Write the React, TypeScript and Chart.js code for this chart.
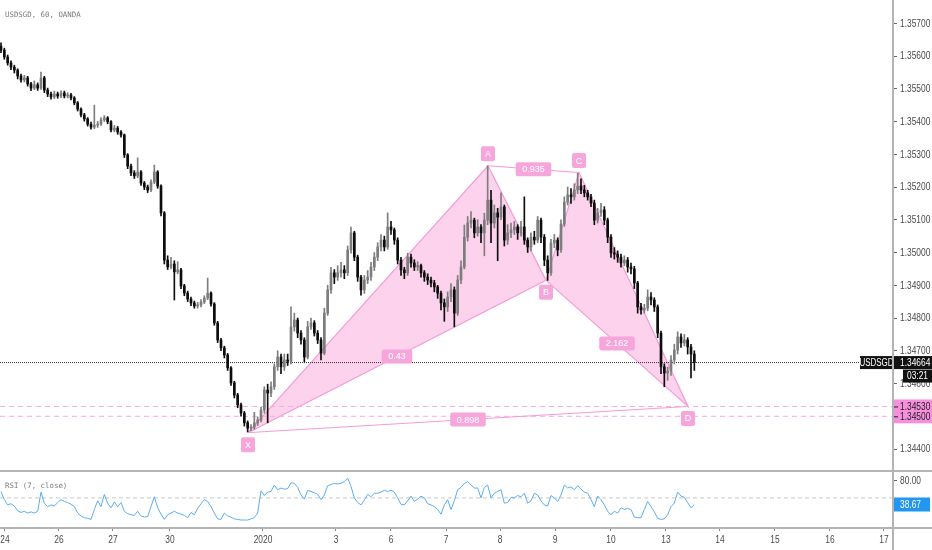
import React, { useEffect, useRef } from 'react';
import Chart from 'chart.js/auto';

// ---- data ----
const chartTitle = 'USDSGD, 60, OANDA';
const rsiTitle = 'RSI (7, close)';
const symbol = 'USDSGD';
const countdown = '03:21';
const lastPrice = 1.34664;
const targetLevels = [1.3453, 1.345];

const firstOpen = 1.3563;
const closes = [
  1.35618, 1.35597, 1.35579, 1.35566, 1.35557, 1.35539, 1.35527, 1.35533, 1.35515, 1.35502,
  1.35512, 1.35502, 1.35533, 1.35496, 1.35484, 1.35475, 1.35484, 1.35478, 1.35487, 1.35478,
  1.35481, 1.35472, 1.35457, 1.35438, 1.3542, 1.35408, 1.35392, 1.35383, 1.35389, 1.35392,
  1.35405, 1.35411, 1.35399, 1.35374, 1.3538, 1.35368, 1.35359, 1.35298, 1.35264, 1.35243,
  1.35234, 1.35246, 1.35212, 1.352, 1.35191, 1.35215, 1.35246, 1.35203, 1.35121, 1.34977,
  1.34956, 1.34965, 1.34941, 1.34947, 1.34898, 1.34876, 1.34858, 1.34846, 1.34837, 1.3484,
  1.34849, 1.34861, 1.34876, 1.34843, 1.34785, 1.34733, 1.34709, 1.34687, 1.34648, 1.34602,
  1.34565, 1.34535, 1.3451, 1.3448, 1.34464, 1.34467, 1.3448, 1.34489, 1.34519, 1.3458,
  1.34571, 1.3459, 1.34651, 1.34681, 1.34651, 1.34672, 1.34668, 1.34773, 1.34794, 1.34754,
  1.34733, 1.34681, 1.34773, 1.34785, 1.34754, 1.34733, 1.34693, 1.34815, 1.34886, 1.34938,
  1.34925, 1.34938, 1.34947, 1.34938, 1.35008, 1.3506, 1.34986, 1.34925, 1.34886, 1.34916,
  1.34925, 1.34956, 1.34986, 1.35017, 1.35038, 1.35017, 1.35078, 1.35069, 1.35038, 1.34977,
  1.34947, 1.34938, 1.34986, 1.34968, 1.34956, 1.3496, 1.34938, 1.34925, 1.34916, 1.34907,
  1.34895, 1.34876, 1.34846, 1.34834, 1.34864, 1.34886, 1.34815, 1.34916, 1.34956, 1.35047,
  1.3509, 1.35099, 1.3506, 1.35078, 1.3506, 1.35099, 1.3516, 1.3509, 1.35121, 1.35108,
  1.35139, 1.35038, 1.3506, 1.35069, 1.35078, 1.3506, 1.35078, 1.35038, 1.35017, 1.35047,
  1.35038, 1.35099, 1.35047, 1.34977, 1.34938, 1.35029, 1.35038, 1.35008, 1.35087, 1.35154,
  1.35176, 1.3517, 1.35191, 1.35203, 1.35191, 1.35182, 1.3517, 1.35151, 1.35099, 1.35121,
  1.3513, 1.35099, 1.35047, 1.34999, 1.34995, 1.34986, 1.34968, 1.34977, 1.34956, 1.3495,
  1.34907, 1.34834, 1.34825, 1.3483, 1.34864, 1.34855, 1.34834, 1.34754, 1.34651, 1.34632,
  1.34638, 1.34672, 1.34702, 1.34742, 1.34724, 1.34733, 1.34712, 1.3469, 1.34664,
];
const highs = [
  1.3564, 1.35624, 1.35603, 1.35585, 1.35572, 1.35561, 1.35545, 1.35541, 1.35538, 1.3552,
  1.35524, 1.35518, 1.35551, 1.35538, 1.35502, 1.3549, 1.35493, 1.3549, 1.35494, 1.35493,
  1.35488, 1.35486, 1.35476, 1.35461, 1.35442, 1.35425, 1.35412, 1.35398, 1.3545, 1.354,
  1.35412, 1.35418, 1.35415, 1.35403, 1.35388, 1.35385, 1.35372, 1.35362, 1.35302, 1.3527,
  1.3525, 1.35289, 1.3525, 1.35217, 1.35206, 1.35222, 1.35267, 1.3525, 1.35207, 1.35125,
  1.3499, 1.34985, 1.34975, 1.34972, 1.34952, 1.34903, 1.34882, 1.34864, 1.34852, 1.34848,
  1.34856, 1.34868, 1.34922, 1.3488, 1.34847, 1.3479, 1.34738, 1.34714, 1.34692, 1.34652,
  1.34607, 1.3457, 1.3454, 1.34515, 1.34486, 1.34475, 1.34512, 1.34498, 1.34527, 1.3459,
  1.34598, 1.34605, 1.3466, 1.347, 1.3469, 1.3469, 1.3469, 1.34834, 1.34815, 1.348,
  1.34762, 1.3474, 1.3479, 1.348, 1.34792, 1.34762, 1.3474, 1.3483, 1.349, 1.34955,
  1.34948, 1.3496, 1.3497, 1.3496, 1.3502, 1.35078, 1.35065, 1.34992, 1.3493, 1.3493,
  1.34945, 1.3497, 1.35, 1.3503, 1.35055, 1.3505, 1.35121, 1.35095, 1.35075, 1.35045,
  1.34985, 1.34955, 1.34998, 1.34995, 1.34978, 1.34972, 1.34965, 1.34945, 1.34935, 1.34925,
  1.34915, 1.349, 1.34882, 1.34858, 1.3488, 1.34905, 1.34895, 1.3493, 1.34975, 1.35084,
  1.3511, 1.35125, 1.35105, 1.351, 1.35085, 1.3512, 1.35265, 1.3519, 1.35145, 1.35135,
  1.35182, 1.35145, 1.35085, 1.3509, 1.35095, 1.35085, 1.35095, 1.3517, 1.35045, 1.3506,
  1.35065, 1.3511, 1.35105, 1.35055, 1.3499, 1.3504, 1.35055, 1.35045, 1.351, 1.3517,
  1.352, 1.35195, 1.3521, 1.35244, 1.35225, 1.35205, 1.3519, 1.35178, 1.3516, 1.35135,
  1.3515, 1.3514, 1.35105, 1.35055, 1.35015, 1.35005, 1.34995, 1.3499, 1.34985, 1.34968,
  1.34958, 1.34912, 1.34845, 1.34842, 1.34886, 1.34878, 1.34862, 1.3484, 1.3476, 1.3466,
  1.3465, 1.34685, 1.3472, 1.34758, 1.34752, 1.3475, 1.3474, 1.3472, 1.347,
];
const lows = [
  1.3561, 1.3559, 1.35572, 1.35558, 1.35548, 1.3553, 1.3552, 1.35521, 1.35508, 1.35494,
  1.35497, 1.35495, 1.35498, 1.35488, 1.35476, 1.35468, 1.3547, 1.35471, 1.35473, 1.35472,
  1.35472, 1.35466, 1.35451, 1.35432, 1.35414, 1.35401, 1.35386, 1.35377, 1.35378, 1.35382,
  1.35388, 1.354, 1.35393, 1.35368, 1.35369, 1.35361, 1.35352, 1.3529, 1.35256, 1.35235,
  1.35226, 1.35228, 1.35205, 1.35192, 1.35183, 1.35186, 1.3521, 1.35196, 1.35112, 1.34965,
  1.34948, 1.3495, 1.34855, 1.34935, 1.3489, 1.34868, 1.3485, 1.34838, 1.3483, 1.3483,
  1.34834, 1.34844, 1.34856, 1.34836, 1.34778, 1.34725, 1.347, 1.34678, 1.3464, 1.34594,
  1.34556, 1.34526, 1.345, 1.3447, 1.34452, 1.34456, 1.3446, 1.34472, 1.34483, 1.3451,
  1.3448, 1.3456, 1.34582, 1.3464, 1.3463, 1.3464, 1.34655, 1.3466, 1.3476, 1.3474,
  1.3472, 1.34666, 1.34675, 1.34765, 1.34745, 1.34722, 1.34672, 1.34688, 1.34808, 1.34875,
  1.34905, 1.34915, 1.34925, 1.3492, 1.3493, 1.34998, 1.34975, 1.34912, 1.3487, 1.34875,
  1.34905, 1.34915, 1.34945, 1.34975, 1.35005, 1.35005, 1.3501, 1.35055, 1.35025, 1.34965,
  1.3493, 1.3492, 1.3493, 1.34955, 1.34945, 1.34945, 1.34925, 1.34912, 1.34902, 1.34895,
  1.3488, 1.3486, 1.34825, 1.3479, 1.3482, 1.3485, 1.34773, 1.34808, 1.34905, 1.3495,
  1.35035, 1.35075, 1.35045, 1.3505, 1.3503, 1.3499, 1.35085, 1.3503, 1.35075, 1.34975,
  1.351, 1.3502, 1.35025, 1.35045, 1.35055, 1.3504, 1.3505, 1.35025, 1.35, 1.35005,
  1.35025, 1.3503, 1.3503, 1.3496, 1.34915, 1.3493, 1.35015, 1.3499, 1.35, 1.3508,
  1.35145, 1.3515, 1.3516, 1.3518, 1.3518, 1.3517, 1.3516, 1.3514, 1.35085, 1.3509,
  1.3511, 1.35085, 1.3503, 1.34985, 1.3498, 1.3497, 1.34955, 1.3496, 1.3494, 1.34935,
  1.3489, 1.34815, 1.34812, 1.34815, 1.34822, 1.3484, 1.3482, 1.3474, 1.3463, 1.3459,
  1.3461, 1.34625, 1.3466, 1.3469, 1.3471, 1.34715, 1.3469, 1.34617, 1.3464,
];
const rsiValues = [
  61, 47, 38, 40, 36, 28, 25, 27, 24, 26,
  24, 27, 60, 41, 35, 38, 36, 42, 47, 44,
  42, 39, 35, 24, 19, 16, 15, 13, 30, 45,
  35, 56, 41, 33, 43, 35, 42, 27, 23, 21,
  20, 27, 19, 17, 18, 35, 52, 33, 22, 13,
  21, 24, 27, 24, 22, 20, 16, 25, 21, 32,
  40, 47, 44, 35, 24, 14, 13, 24, 19, 17,
  14, 13, 12, 12, 12, 14, 16, 24, 62, 54,
  60, 61, 72, 64, 67, 65, 66, 76, 75, 68,
  55, 48, 63, 61, 59, 56, 47, 55, 71, 73,
  75, 74, 75, 78, 84, 70, 50, 42, 38, 46,
  56, 52, 58, 58, 60, 63, 61, 63, 60, 50,
  39, 38, 45, 53, 44, 48, 53, 50, 40, 38,
  35, 30, 22, 38, 47, 30, 45, 64, 68, 75,
  78, 72, 67, 67, 50, 68, 72, 50, 58, 61,
  64, 41, 42, 51, 50, 54, 52, 58, 41, 45,
  58, 55, 45, 38, 36, 54, 50, 44, 55, 72,
  67, 69, 64, 71, 65, 60, 58, 47, 35, 53,
  47, 38, 27, 21, 27, 24, 33, 30, 32, 30,
  17, 16, 16, 30, 44, 35, 26, 15, 13, 14,
  21, 35, 41, 60, 53, 51, 42, 33, 38.67,
];

const priceTicks = [1.357, 1.356, 1.355, 1.354, 1.353, 1.352, 1.351, 1.35, 1.349, 1.348, 1.347, 1.346, 1.345, 1.344];
const rsiTicks = [80];
const rsiMid = 50;
// bar index where each day label sits
const dayTickPos = [1.2, 17.4, 33.6, 50.7, 78.6, 100.5, 117, 133.5, 149.7, 166.2, 183, 199.5, 215.7, 232.2, 248.7, 264.9];
const dayTickLabels = ['24', '26', '27', '30', '2020', '3', '6', '7', '8', '9', '10', '13', '14', '15', '16', '17'];

// harmonic pattern
const patternNames = ['X', 'A', 'B', 'C', 'D'];
const patternBars = [74.1, 146.1, 163.5, 173.4, 206.1];
const patternPrices = [1.3445, 1.35265, 1.34915, 1.35244, 1.3453];
const ratioTexts = ['0.43', '0.935', '2.162', '0.898'];
const ratioLegs = [[0, 2], [1, 3], [2, 4], [0, 4]];

// ---- look ----
const X_MIN = -0.3;
const X_MAX = 267.6;
const AXIS_W = 39;
const SANS = '"Liberation Sans", Arial, sans-serif';
const MONO = '"DejaVu Sans Mono", monospace';
const AXIS_FONT = `10.5px ${SANS}`;
const SQUEEZE = 0.8;
const PINK_LINE = '#f59ad6';
const PINK_FILL = 'rgba(248,160,218,0.48)';
const PINK_BOX = '#f7a6dc';
const PINK_AXIS = '#f78fdc';
const UP = '#7d7d7d';
const DOWN = '#0d0d0d';

// narrow text: the page has no condensed face, so squeeze a regular one
function narrowText(ctx: any, text: string, x: number, y: number, color: string, align: string = 'left', font: string = AXIS_FONT) {
  ctx.save();
  ctx.font = font;
  ctx.fillStyle = color;
  ctx.textAlign = align;
  ctx.textBaseline = 'middle';
  ctx.translate(x, y);
  ctx.scale(SQUEEZE, 1);
  ctx.fillText(text, 0, 0);
  ctx.restore();
}

function pill(ctx: any, left: number, top: number, w: number, h: number, bg: string, r = 2) {
  ctx.fillStyle = bg;
  ctx.beginPath();
  if (ctx.roundRect) ctx.roundRect(left, top, w, h, r);
  else ctx.rect(left, top, w, h);
  ctx.fill();
}

const mainOverlay = {
  id: 'mainOverlay',
  afterDraw(chart: any) {
    const { ctx, chartArea } = chart;
    const x = chart.scales.x;
    const y = chart.scales.y;
    const right = chartArea.right;
    ctx.save();

    ctx.font = `7.4px ${MONO}`;
    ctx.fillStyle = '#7a7a7a';
    ctx.textAlign = 'left';
    ctx.textBaseline = 'middle';
    ctx.fillText(chartTitle, 5, 15);

    // price axis labels
    y.ticks.forEach((t: any) => {
      narrowText(ctx, Number(t.value).toFixed(5), right + 7, y.getPixelForValue(t.value) + 0.5, '#4a4a4a');
    });

    const labelFont = `9px ${SANS}`;
    ratioLegs.forEach(([a, b], k) => {
      const mx = (x.getPixelForValue(patternBars[a]) + x.getPixelForValue(patternBars[b])) / 2;
      const my = (y.getPixelForValue(patternPrices[a]) + y.getPixelForValue(patternPrices[b])) / 2;
      ctx.font = labelFont;
      const w = ctx.measureText(ratioTexts[k]).width + 13;
      pill(ctx, mx - w / 2, my - 7, w, 14, PINK_BOX);
      ctx.fillStyle = '#fff';
      ctx.textAlign = 'center';
      ctx.textBaseline = 'middle';
      ctx.fillText(ratioTexts[k], mx, my + 0.5);
    });
    patternNames.forEach((name, k) => {
      const px = x.getPixelForValue(patternBars[k]);
      const py = y.getPixelForValue(patternPrices[k]) + (name === 'A' || name === 'C' ? -12 : 12);
      pill(ctx, px - 7, py - 7.5, 14, 15, PINK_BOX);
      ctx.font = labelFont;
      ctx.fillStyle = '#fff';
      ctx.textAlign = 'center';
      ctx.textBaseline = 'middle';
      ctx.fillText(name, px, py + 0.5);
    });

    // last price boxes on the axis
    const py = y.getPixelForValue(lastPrice);
    ctx.fillStyle = '#111';
    ctx.fillRect(right - 33, py - 6.5, 33, 13);
    narrowText(ctx, symbol, right - 16.5, py + 0.5, '#fff', 'center', `10px ${SANS}`);
    ctx.fillRect(right, py - 6.5, chart.width - right, 13);
    narrowText(ctx, lastPrice.toFixed(5), right + 7, py + 0.5, '#fff');
    ctx.fillStyle = '#111';
    ctx.fillRect(right + 10, py + 7, chart.width - right - 10, 13);
    narrowText(ctx, countdown, right + 10 + (chart.width - right - 10) / 2, py + 14, '#fff', 'center');

    const t0 = y.getPixelForValue(targetLevels[0]);
    const t1 = y.getPixelForValue(targetLevels[1]);
    ctx.fillStyle = PINK_AXIS;
    ctx.fillRect(right + 1, t0 - 7, chart.width - right, t1 - t0 + 14);
    targetLevels.forEach((lv) => {
      const ly = y.getPixelForValue(lv);
      ctx.fillStyle = '#222';
      ctx.fillRect(right + 1, ly, 4, 1);
      narrowText(ctx, lv.toFixed(5), right + 7, ly + 0.5, '#222');
    });
    ctx.restore();
  },
};

const rsiOverlay = {
  id: 'rsiOverlay',
  afterDraw(chart: any) {
    const { ctx, chartArea } = chart;
    const x = chart.scales.x;
    const y = chart.scales.y;
    const right = chartArea.right;
    ctx.save();
    ctx.font = `7.4px ${MONO}`;
    ctx.fillStyle = '#7a7a7a';
    ctx.textAlign = 'left';
    ctx.textBaseline = 'middle';
    ctx.fillText(rsiTitle, 5, 14);

    y.ticks.forEach((t: any) => {
      narrowText(ctx, Number(t.value).toFixed(2), right + 7, y.getPixelForValue(t.value) + 0.5, '#4a4a4a');
    });
    x.ticks.forEach((t: any, i: number) => {
      narrowText(ctx, dayTickLabels[i], x.getPixelForValue(t.value), chartArea.bottom + 13, '#4a4a4a', 'center');
    });

    const last = rsiValues[rsiValues.length - 1];
    const py = y.getPixelForValue(last);
    ctx.fillStyle = '#2196f3';
    ctx.fillRect(right + 1, py - 7, chart.width - right - 3, 14);
    narrowText(ctx, last.toFixed(2), right + 7, py + 0.5, '#fff');
    ctx.restore();
  },
};

const App = () => {
  const mainRef = useRef<HTMLCanvasElement>(null);
  const rsiRef = useRef<HTMLCanvasElement>(null);

  useEffect(() => {
    let mainChart: any = null;
    let rsiChart: any = null;

    const opens = closes.map((c, i) => (i === 0 ? firstOpen : closes[i - 1]));
    const candleColors = closes.map((c, i) => (c >= opens[i] ? UP : DOWN));
    const pt = (k: number) => ({ x: patternBars[k], y: patternPrices[k] });
    const hline = (v: number) => [{ x: X_MIN, y: v }, { x: X_MAX, y: v }];
    const line = (data: any[], color: string, width: number, dash: number[], order: number, extra: any = {}) => ({
      type: 'line', data, borderColor: color, borderWidth: width, borderDash: dash,
      pointRadius: 0, pointHoverRadius: 0, tension: 0, fill: false, order, ...extra,
    });
    const hiddenLabels = { display: false };

    if (mainRef.current) {
      mainChart = new Chart(mainRef.current, {
        type: 'bar',
        data: {
          datasets: [
            line([pt(0), pt(1), pt(2), pt(0)], PINK_LINE, 1.2, [], 10, { fill: 'shape', backgroundColor: PINK_FILL }),
            line([pt(2), pt(3), pt(4), pt(2)], PINK_LINE, 1.2, [], 10, { fill: 'shape', backgroundColor: PINK_FILL }),
            line(hline(targetLevels[0]), '#f9a9df', 1, [5, 4], 9),
            line(hline(targetLevels[1]), '#f9a9df', 1, [5, 4], 9),
            line(hline(lastPrice), '#333', 1, [1, 1], 8),
            {
              type: 'bar',
              data: closes.map((_, i) => ({ x: i, y: [lows[i], highs[i]] })),
              backgroundColor: candleColors, barThickness: 1, maxBarThickness: 1,
              grouped: false, borderWidth: 0, order: 3,
            },
            {
              type: 'bar',
              data: closes.map((c, i) => ({ x: i, y: [opens[i], c] })),
              backgroundColor: candleColors, barThickness: 2, maxBarThickness: 2,
              grouped: false, borderWidth: 0, minBarLength: 1, order: 2,
            },
            line([pt(0), pt(4)], PINK_LINE, 1, [], 1),
            line([pt(1), pt(3)], PINK_LINE, 1, [], 1),
          ] as any,
        },
        options: {
          responsive: false,
          animation: false,
          events: [],
          layout: { padding: 0 },
          plugins: { legend: { display: false }, tooltip: { enabled: false } },
          scales: {
            x: { type: 'linear', min: X_MIN, max: X_MAX, display: false, offset: false },
            y: {
              type: 'linear',
              position: 'right',
              min: 1.34336,
              max: 1.35771,
              beginAtZero: false,
              afterBuildTicks: (s: any) => { s.ticks = priceTicks.map((v) => ({ value: v })); },
              afterFit: (s: any) => { s.width = AXIS_W; s.paddingTop = 0; s.paddingBottom = 0; },
              ticks: hiddenLabels,
              grid: { drawOnChartArea: false, drawTicks: true, tickLength: 4, color: '#666' },
              border: { display: false },
            },
          },
        } as any,
        plugins: [mainOverlay],
      });
    }

    if (rsiRef.current) {
      rsiChart = new Chart(rsiRef.current, {
        type: 'line',
        data: {
          datasets: [
            line(hline(rsiMid), '#c9c9c9', 1, [4, 3], 2),
            line(rsiValues.map((v, i) => ({ x: i, y: v })), '#5aaef2', 1, [], 1),
          ] as any,
        },
        options: {
          responsive: false,
          animation: false,
          events: [],
          layout: { padding: 0 },
          plugins: { legend: { display: false }, tooltip: { enabled: false } },
          scales: {
            x: {
              type: 'linear',
              min: X_MIN,
              max: X_MAX,
              offset: false,
              afterBuildTicks: (s: any) => { s.ticks = dayTickPos.map((v) => ({ value: v })); },
              afterFit: (s: any) => { s.height = 23; s.paddingLeft = 0; s.paddingRight = 0; },
              ticks: hiddenLabels,
              grid: { drawOnChartArea: false, drawTicks: true, tickLength: 4, color: '#888' },
              border: { display: false },
            },
            y: {
              type: 'linear',
              position: 'right',
              min: 0,
              max: 94.5,
              afterBuildTicks: (s: any) => { s.ticks = rsiTicks.map((v) => ({ value: v })); },
              afterFit: (s: any) => { s.width = AXIS_W; s.paddingTop = 0; s.paddingBottom = 0; },
              ticks: hiddenLabels,
              grid: { drawOnChartArea: false, drawTicks: true, tickLength: 4, color: '#666' },
              border: { display: false },
            },
          },
        } as any,
        plugins: [rsiOverlay],
      });
    }

    return () => {
      if (mainChart) mainChart.destroy();
      if (rsiChart) rsiChart.destroy();
    };
  }, []);

  return (
    <div style={{ position: 'absolute', left: 0, top: 0, width: 932, height: 550, background: '#fff', overflow: 'hidden' }}>
      <canvas ref={mainRef} width={932} height={470} style={{ position: 'absolute', left: 0, top: 0 }}></canvas>
      <canvas ref={rsiRef} width={932} height={78} style={{ position: 'absolute', left: 0, top: 472 }}></canvas>
      <div style={{ position: 'absolute', left: 0, top: 470, width: 932, height: 2, background: '#b4b4b4' }} />
      <div style={{ position: 'absolute', left: 0, top: 527, width: 932, height: 2, background: '#b4b4b4' }} />
      <div style={{ position: 'absolute', left: 892, top: 0, width: 2, height: 550, background: '#b4b4b4' }} />
    </div>
  );
};

export default App;
